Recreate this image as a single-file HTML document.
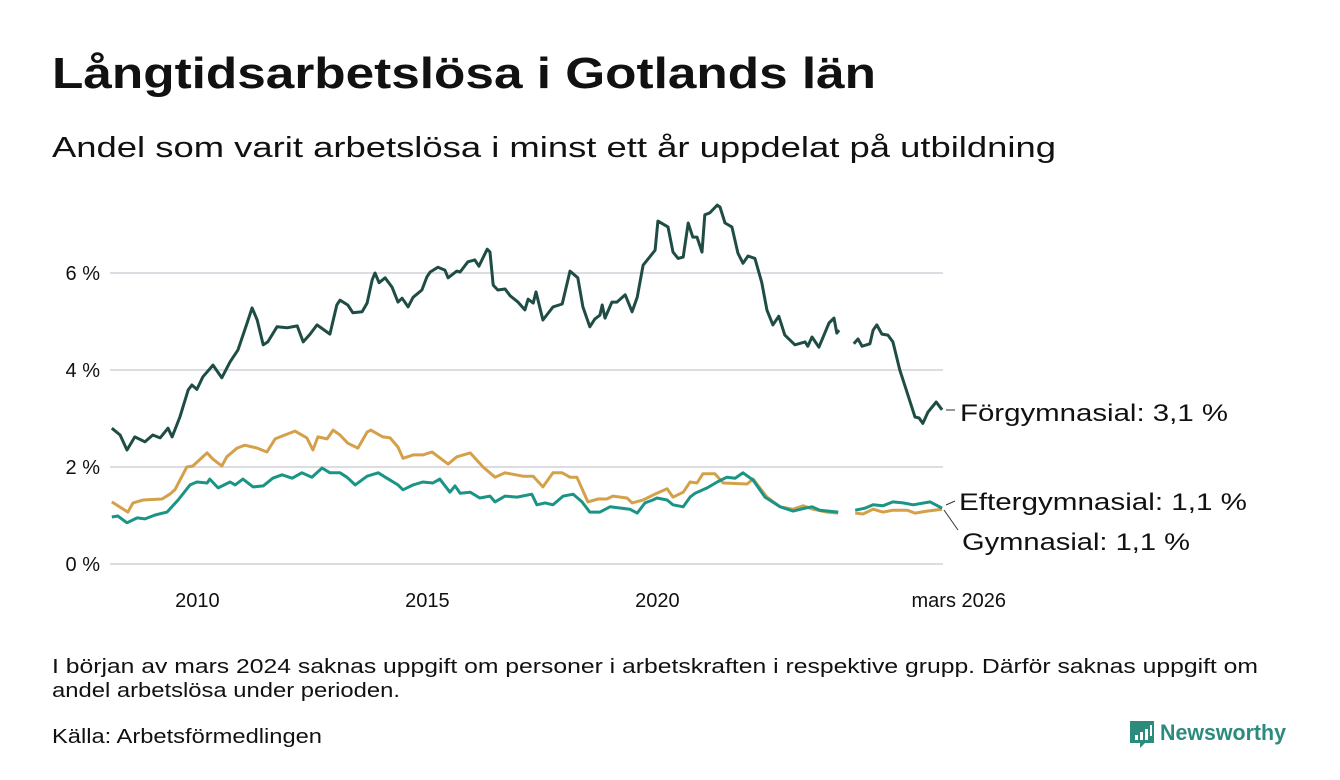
<!DOCTYPE html>
<html><head><meta charset="utf-8"><style>
html,body{margin:0;padding:0;background:#fff;}
svg{display:block;font-family:"Liberation Sans",sans-serif;}
</style></head><body>
<svg id="chart" width="1340" height="780" viewBox="0 0 1340 780">
<text x="52" y="88" font-size="44" font-weight="bold" fill="#111" textLength="824" lengthAdjust="spacingAndGlyphs">Långtidsarbetslösa i Gotlands län</text>
<text x="52" y="157" font-size="29" fill="#111" textLength="1004" lengthAdjust="spacingAndGlyphs">Andel som varit arbetslösa i minst ett år uppdelat på utbildning</text>
<g id="grid"></g>
<g id="yticks"></g>
<g id="xticks"></g>
<g id="series"></g>
<g id="labels"></g>
<text x="52" y="673" font-size="20" fill="#111" textLength="1206" lengthAdjust="spacingAndGlyphs">I början av mars 2024 saknas uppgift om personer i arbetskraften i respektive grupp. Därför saknas uppgift om</text>
<text x="52" y="697" font-size="20" fill="#111" textLength="348" lengthAdjust="spacingAndGlyphs">andel arbetslösa under perioden.</text>
<text x="52" y="743" font-size="20" fill="#111" textLength="270" lengthAdjust="spacingAndGlyphs">Källa: Arbetsförmedlingen</text>
<g>
<path d="M1130 721 h24 v22 h-9 l-5 5 v-5 h-10 z" fill="#2b8c7e"/>
<rect x="1135" y="735" width="3" height="5" fill="#fff"/>
<rect x="1140" y="732" width="3" height="8" fill="#fff"/>
<rect x="1145" y="729" width="3" height="11" fill="#fff"/>
<rect x="1150" y="725" width="2" height="11" fill="#fff"/>
<text x="1160" y="740" font-size="22" font-weight="bold" fill="#2b8c7e" textLength="126" lengthAdjust="spacingAndGlyphs">Newsworthy</text>
</g>
</svg>
<script>
const yTicks = [0, 2, 4, 6];
const yTickLabels = ["0 %", "2 %", "4 %", "6 %"];
const xTicks = [2009.9, 2014.9, 2019.9, 2026.17];
const xTickLabels = ["2010", "2015", "2020", "mars 2026"];

const darkYears = [2008.04,2008.22,2008.37,2008.54,2008.76,2008.93,2009.09,2009.26,2009.35,2009.52,2009.70,2009.78,2009.89,2010.02,2010.24,2010.43,2010.61,2010.78,2010.98,2011.09,2011.20,2011.33,2011.43,2011.63,2011.85,2012.07,2012.20,2012.35,2012.50,2012.78,2012.93,2013.00,2013.17,2013.28,2013.48,2013.59,2013.70,2013.76,2013.85,2013.98,2014.13,2014.26,2014.35,2014.48,2014.59,2014.78,2014.89,2014.96,2015.13,2015.28,2015.35,2015.54,2015.61,2015.78,2015.93,2016.02,2016.20,2016.26,2016.33,2016.43,2016.59,2016.70,2016.87,2017.02,2017.09,2017.20,2017.26,2017.41,2017.63,2017.83,2018.00,2018.17,2018.28,2018.43,2018.54,2018.65,2018.70,2018.76,2018.91,2019.02,2019.20,2019.35,2019.46,2019.59,2019.85,2019.91,2020.13,2020.24,2020.35,2020.46,2020.57,2020.67,2020.76,2020.87,2020.93,2021.04,2021.20,2021.26,2021.37,2021.52,2021.65,2021.76,2021.87,2022.02,2022.17,2022.28,2022.41,2022.54,2022.67,2022.89,2023.11,2023.17,2023.26,2023.41,2023.63,2023.74,2023.80,2023.85,2023.95,2024.17,2024.26,2024.35,2024.52,2024.59,2024.67,2024.78,2024.91,2025.02,2025.17,2025.33,2025.50,2025.59,2025.67,2025.78,2025.96,2026.09];
const darkValues = [2.80,2.66,2.35,2.62,2.52,2.66,2.60,2.80,2.62,3.03,3.59,3.69,3.60,3.86,4.10,3.84,4.17,4.41,4.97,5.28,5.03,4.52,4.58,4.89,4.87,4.91,4.58,4.74,4.93,4.74,5.34,5.44,5.34,5.18,5.20,5.38,5.86,6.00,5.80,5.90,5.71,5.40,5.48,5.30,5.50,5.65,5.92,6.02,6.12,6.06,5.90,6.04,6.02,6.23,6.27,6.14,6.49,6.43,5.75,5.65,5.67,5.53,5.40,5.24,5.46,5.38,5.61,5.03,5.30,5.36,6.04,5.90,5.30,4.89,5.05,5.13,5.34,5.07,5.40,5.40,5.55,5.20,5.50,6.16,6.47,7.07,6.95,6.43,6.30,6.33,7.03,6.74,6.74,6.43,7.20,7.24,7.40,7.36,7.03,6.95,6.41,6.20,6.35,6.30,5.80,5.24,4.93,5.11,4.72,4.52,4.58,4.49,4.68,4.47,4.97,5.07,4.76,4.82,null,4.54,4.64,4.49,4.54,4.82,4.93,4.74,4.72,4.58,4.00,3.53,3.03,3.01,2.90,3.13,3.34,3.18];

const goldYears = [2008.04,2008.39,2008.50,2008.72,2009.13,2009.30,2009.41,2009.67,2009.80,2010.11,2010.24,2010.43,2010.54,2010.76,2010.93,2011.20,2011.41,2011.59,2011.80,2012.02,2012.28,2012.41,2012.52,2012.72,2012.85,2013.00,2013.17,2013.39,2013.59,2013.67,2013.93,2014.09,2014.26,2014.37,2014.59,2014.80,2015.00,2015.35,2015.54,2015.83,2016.11,2016.37,2016.59,2016.98,2017.20,2017.41,2017.63,2017.83,2018.00,2018.15,2018.39,2018.61,2018.80,2018.93,2019.24,2019.35,2019.59,2019.89,2020.11,2020.24,2020.46,2020.61,2020.76,2020.89,2021.15,2021.33,2021.85,2021.98,2022.28,2022.57,2022.85,2023.07,2023.28,2023.59,2023.83,2023.95,2024.20,2024.37,2024.59,2024.80,2025.02,2025.33,2025.50,2025.76,2026.09];
const goldValues = [1.28,1.07,1.26,1.32,1.34,1.44,1.53,2.00,2.02,2.29,2.16,2.02,2.21,2.39,2.45,2.39,2.31,2.58,2.66,2.74,2.60,2.35,2.62,2.58,2.76,2.66,2.49,2.39,2.72,2.76,2.62,2.60,2.41,2.18,2.25,2.25,2.31,2.06,2.21,2.29,2.00,1.79,1.88,1.81,1.81,1.59,1.88,1.88,1.79,1.79,1.28,1.34,1.34,1.40,1.36,1.26,1.32,1.46,1.55,1.38,1.48,1.69,1.67,1.86,1.86,1.67,1.65,1.75,1.38,1.18,1.13,1.20,1.13,1.07,1.05,null,1.05,1.03,1.13,1.07,1.11,1.11,1.05,1.09,1.13];

const tealYears = [2008.04,2008.17,2008.37,2008.59,2008.76,2008.98,2009.24,2009.48,2009.74,2009.89,2010.11,2010.17,2010.35,2010.61,2010.72,2010.89,2011.11,2011.33,2011.54,2011.74,2011.96,2012.17,2012.39,2012.61,2012.78,2013.00,2013.15,2013.33,2013.59,2013.83,2014.02,2014.26,2014.37,2014.59,2014.80,2015.02,2015.17,2015.39,2015.50,2015.61,2015.83,2016.04,2016.26,2016.37,2016.59,2016.85,2017.17,2017.28,2017.46,2017.63,2017.85,2018.07,2018.26,2018.43,2018.65,2018.87,2019.30,2019.46,2019.63,2019.80,2019.89,2020.11,2020.24,2020.46,2020.61,2020.72,2020.98,2021.20,2021.41,2021.59,2021.76,2021.98,2022.24,2022.57,2022.85,2023.11,2023.26,2023.43,2023.83,2023.95,2024.20,2024.41,2024.59,2024.80,2025.02,2025.24,2025.46,2025.83,2026.09];
const tealValues = [0.97,0.99,0.85,0.95,0.93,1.01,1.07,1.32,1.63,1.69,1.67,1.75,1.57,1.69,1.63,1.75,1.59,1.61,1.77,1.84,1.77,1.88,1.79,1.98,1.88,1.88,1.79,1.63,1.81,1.88,1.77,1.63,1.53,1.63,1.69,1.67,1.75,1.48,1.61,1.46,1.48,1.36,1.40,1.28,1.40,1.38,1.44,1.22,1.26,1.22,1.40,1.44,1.28,1.07,1.07,1.18,1.13,1.05,1.26,1.32,1.36,1.32,1.22,1.18,1.38,1.46,1.57,1.69,1.79,1.77,1.88,1.73,1.38,1.18,1.09,1.15,1.18,1.11,1.07,null,1.11,1.15,1.22,1.20,1.28,1.26,1.22,1.28,1.15];

const NS = "http://www.w3.org/2000/svg";
const X0 = 110, Y0 = 564, PXY = 46, PXV = 48.5;
function xs(t){ return X0 + (t - 2008) * PXY; }
function ys(v){ return Y0 - v * PXV; }
function mk(tag, attrs, parent){ const e = document.createElementNS(NS, tag); for (const k in attrs) e.setAttribute(k, attrs[k]); parent.appendChild(e); return e; }

const grid = document.getElementById('grid');
const yg = document.getElementById('yticks');
yTicks.forEach((v, i) => {
  const l = mk('line', {x1: 110, x2: 943, y1: ys(v), y2: ys(v), stroke: '#dcdce2', 'stroke-width': 2}, grid);
  
  
  const t = mk('text', {x: 100, y: ys(v) + 7, 'font-size': 20, 'text-anchor': 'end', fill: '#111'}, yg);
  t.textContent = yTickLabels[i];
  
  
});
const xg = document.getElementById('xticks');
xTicks.forEach((t0, i) => {
  const t = mk('text', {x: xs(t0), y: 607, 'font-size': 20, 'text-anchor': i === 3 ? 'end' : 'middle', fill: '#111'}, xg);
  if (i === 3) t.setAttribute('x', 1006);
  t.textContent = xTickLabels[i];
  
  
});

function pathFor(years, vals){
  let d = '', pen = false;
  for (let i = 0; i < years.length; i++){
    if (vals[i] === null){ pen = false; continue; }
    d += (pen ? 'L' : 'M') + xs(years[i]).toFixed(1) + ' ' + ys(vals[i]).toFixed(1);
    pen = true;
  }
  return d;
}
const sg = document.getElementById('series');
const gold = mk('path', {d: pathFor(goldYears, goldValues), fill: 'none', stroke: '#d4a04a', 'stroke-width': 3, 'stroke-linejoin': 'round'}, sg);


const teal = mk('path', {d: pathFor(tealYears, tealValues), fill: 'none', stroke: '#1a9585', 'stroke-width': 3, 'stroke-linejoin': 'round'}, sg);


const dark = mk('path', {d: pathFor(darkYears, darkValues), fill: 'none', stroke: '#1f4d45', 'stroke-width': 3, 'stroke-linejoin': 'round'}, sg);



const lg = document.getElementById('labels');
mk('line', {x1: 946, x2: 955, y1: 410, y2: 410, stroke: '#333', 'stroke-width': 1}, lg);
mk('line', {x1: 946, x2: 955, y1: 505, y2: 501, stroke: '#333', 'stroke-width': 1}, lg);
mk('line', {x1: 944, x2: 958, y1: 510, y2: 530, stroke: '#333', 'stroke-width': 1}, lg);
const labs = [["Förgymnasial: 3,1 %", 960, 421, 268, 'label-forgymnasial'], ["Eftergymnasial: 1,1 %", 959, 510, 288, 'label-eftergymnasial'], ["Gymnasial: 1,1 %", 962, 550, 228, 'label-gymnasial']];
labs.forEach(a => {
  const t = mk('text', {x: a[1], y: a[2], 'font-size': 24, fill: '#111', textLength: a[3], lengthAdjust: 'spacingAndGlyphs'}, lg);
  t.textContent = a[0];
  
  
});
</script>
</body></html>
